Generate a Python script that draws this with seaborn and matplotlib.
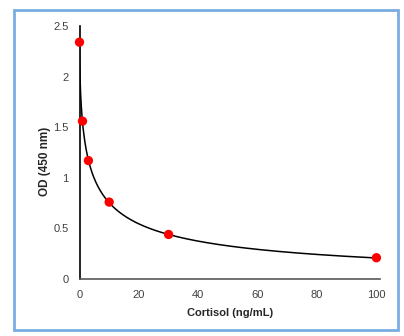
import numpy as np
import pandas as pd
import seaborn as sns
import matplotlib
matplotlib.use("Agg")
import matplotlib.pyplot as plt
from matplotlib.patches import Rectangle

# Data
cortisol = [0, 1, 3, 10, 30, 100]
od = [2.34, 1.56, 1.17, 0.76, 0.44, 0.21]
x_ticks = [0, 20, 40, 60, 80, 100]
y_ticks = [0, 0.5, 1, 1.5, 2, 2.5]
y_tick_labels = ["0", "0.5", "1", "1.5", "2", "2.5"]

df = pd.DataFrame({"Cortisol": cortisol, "OD": od})

# 4-parameter logistic fit of the standard curve (grid search least squares)
xa = np.array(cortisol, float)
ya = np.array(od, float)
top = ya[0]
bs = np.linspace(0.3, 1.5, 121)[:, None, None]
cs = np.linspace(0.5, 10, 191)[None, :, None]
ds = np.linspace(-0.3, 0.2, 51)[None, None, :]
pred = ds[..., None] + (top - ds[..., None]) / (1 + (xa / cs[..., None]) ** bs[..., None])
sse = ((pred - ya) ** 2).sum(axis=-1)
i, j, k = np.unravel_index(np.argmin(sse), sse.shape)
b, c, d = bs.ravel()[i], cs.ravel()[j], ds.ravel()[k]
xf = np.concatenate([np.linspace(0, 1, 200), np.linspace(1, 100, 400)])
yf = d + (top - d) / (1 + (xf / c) ** b)
fit = pd.DataFrame({"Cortisol": xf, "OD": yf})

sns.set_style("white")
plt.rcParams["font.family"] = ["Liberation Sans", "DejaVu Sans"]

fig = plt.figure(figsize=(4.04, 3.36), dpi=100)
ax = fig.add_axes([79.5 / 404, 57 / 336, (380 - 79.5) / 404, (279 - 26) / 336])

sns.lineplot(data=fit, x="Cortisol", y="OD", ax=ax, color="black", lw=1.1, zorder=2)
sns.scatterplot(data=df, x="Cortisol", y="OD", ax=ax, color="#ff0000", s=45,
                edgecolor="none", zorder=3, clip_on=False)

ax.set_xlim(0, 101.2)
ax.set_ylim(0, 2.5)
ax.set_xticks(x_ticks)
ax.set_xticklabels([str(t) for t in x_ticks])
ax.set_yticks(y_ticks)
ax.set_yticklabels(y_tick_labels)
ax.tick_params(axis="both", length=0, labelsize=8, colors="#404040", pad=8)
for s in ["top", "right"]:
    ax.spines[s].set_visible(False)
ax.spines["left"].set_color("black")
ax.spines["left"].set_linewidth(1.2)
ax.spines["bottom"].set_color("#595959")
ax.spines["bottom"].set_linewidth(1.2)
ax.set_xlabel("Cortisol (ng/mL)", fontsize=8, fontweight="bold", color="#262626")
ax.set_ylabel("OD (450 nm)", fontsize=8.5, fontweight="bold", color="#262626")
ax.xaxis.label.set_va("center")
ax.yaxis.label.set_va("center")
ax.xaxis.set_label_coords(0.5, (279 - 313) / 253)
ax.yaxis.set_label_coords((45 - 79.5) / 300.5, (279 - 161) / 253)
ax.grid(False)

fig.patches.append(Rectangle((13.5 / 404, 6 / 336), 384 / 404, 320 / 336,
                             transform=fig.transFigure, fill=False,
                             edgecolor="#7aaee0", lw=2.0))

fig.savefig("out.png", dpi=100)
